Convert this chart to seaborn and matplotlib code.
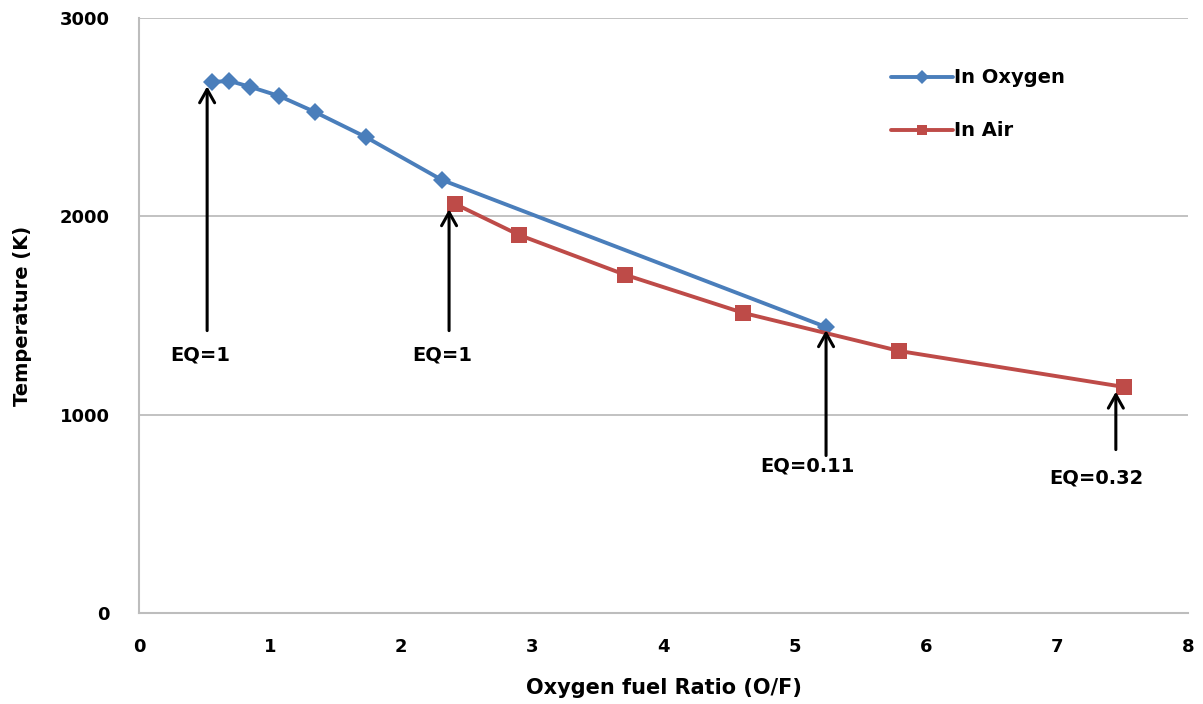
import matplotlib
matplotlib.use("Agg")
import matplotlib.pyplot as plt
import seaborn as sns
import pandas as pd

# Data
oxy_x = [0.56, 0.69, 0.85, 1.07, 1.34, 1.73, 2.31, 5.24]
oxy_y = [2678, 2683, 2653, 2607, 2527, 2400, 2184, 1442]
air_x = [2.41, 2.90, 3.71, 4.61, 5.80, 7.51]
air_y = [2063, 1906, 1705, 1513, 1321, 1140]
x_ticks = [0, 1, 2, 3, 4, 5, 6, 7, 8]
y_ticks = [0, 1000, 2000, 3000]
annotations = [  # (text, arrow x, arrow tip y, arrow tail y, text x, text y)
    ("EQ=1", 0.52, 2670, 1410, 0.47, 1300),
    ("EQ=1", 2.365, 2050, 1410, 2.31, 1300),
    ("EQ=0.11", 5.24, 1440, 780, 5.1, 740),
    ("EQ=0.32", 7.45, 1130, 810, 7.3, 680),
]

sns.set_theme(style="white")
plt.rcParams['font.family'] = ['DejaVu Sans']
plt.rcParams['text.color'] = 'black'
plt.rcParams['axes.labelcolor'] = 'black'
plt.rcParams['xtick.color'] = 'black'
plt.rcParams['ytick.color'] = 'black'

df = pd.concat([
    pd.DataFrame({"x": oxy_x, "y": oxy_y, "series": "In Oxygen"}),
    pd.DataFrame({"x": air_x, "y": air_y, "series": "In Air"}),
])

fig = plt.figure(figsize=(12.03, 7.04), dpi=100)
ax = fig.add_axes([0.1155, 0.1293, 0.872, 0.845])

blue = "#4A7EBB"
red = "#BE4B48"
sns.lineplot(data=df, x="x", y="y", hue="series", style="series",
             palette={"In Oxygen": blue, "In Air": red},
             markers={"In Oxygen": "D", "In Air": "s"},
             dashes=False, sort=False, linewidth=2.8,
             markersize=11, markeredgewidth=0, ax=ax)
for line in ax.lines:
    if line.get_marker() == "s":
        line.set_markersize(12)
    elif line.get_marker() == "D":
        line.set_markersize(9)

ax.set_xlim(0, 8)
ax.set_ylim(0, 3000)
ax.set_xticks(x_ticks)
ax.set_yticks(y_ticks)
ax.set_xticklabels([str(t) for t in x_ticks], fontsize=13, fontweight="bold", color="black")
ax.set_yticklabels([str(t) for t in y_ticks], fontsize=13, fontweight="bold", color="black")
ax.tick_params(axis="x", pad=18, length=0)
ax.tick_params(axis="y", pad=21, length=0)
ax.yaxis.grid(True, color="#BDBDBD", linewidth=1.3)
ax.xaxis.grid(False)
for s in ["top", "right"]:
    ax.spines[s].set_visible(False)
for s in ["left", "bottom"]:
    ax.spines[s].set_color("#BDBDBD")
    ax.spines[s].set_linewidth(1.5)

ax.set_xlabel("Oxygen fuel Ratio (O/F)", fontsize=15, fontweight="bold", labelpad=16, color="black")
ax.set_ylabel("Temperature (K)", fontsize=14, fontweight="bold", labelpad=20, color="black")

for txt, ax_x, tip, tail, tx, ty in annotations:
    ax.annotate("", xy=(ax_x, tip), xytext=(ax_x, tail),
                arrowprops=dict(arrowstyle="->,head_length=0.8,head_width=0.45",
                                color="black", lw=2.2))
    ax.text(tx, ty, txt, fontsize=14, fontweight="bold", ha="center", va="center", color="black")

leg = ax.legend(loc="upper left", bbox_to_anchor=(0.70, 0.945), frameon=False,
                handlelength=3.2, labelspacing=1.75, handletextpad=0.05,
                prop={"weight": "bold", "size": 14})
for h in leg.legend_handles:
    h.set_markersize(7)
for t in leg.get_texts():
    t.set_color("black")

fig.savefig("out.png", dpi=100)
